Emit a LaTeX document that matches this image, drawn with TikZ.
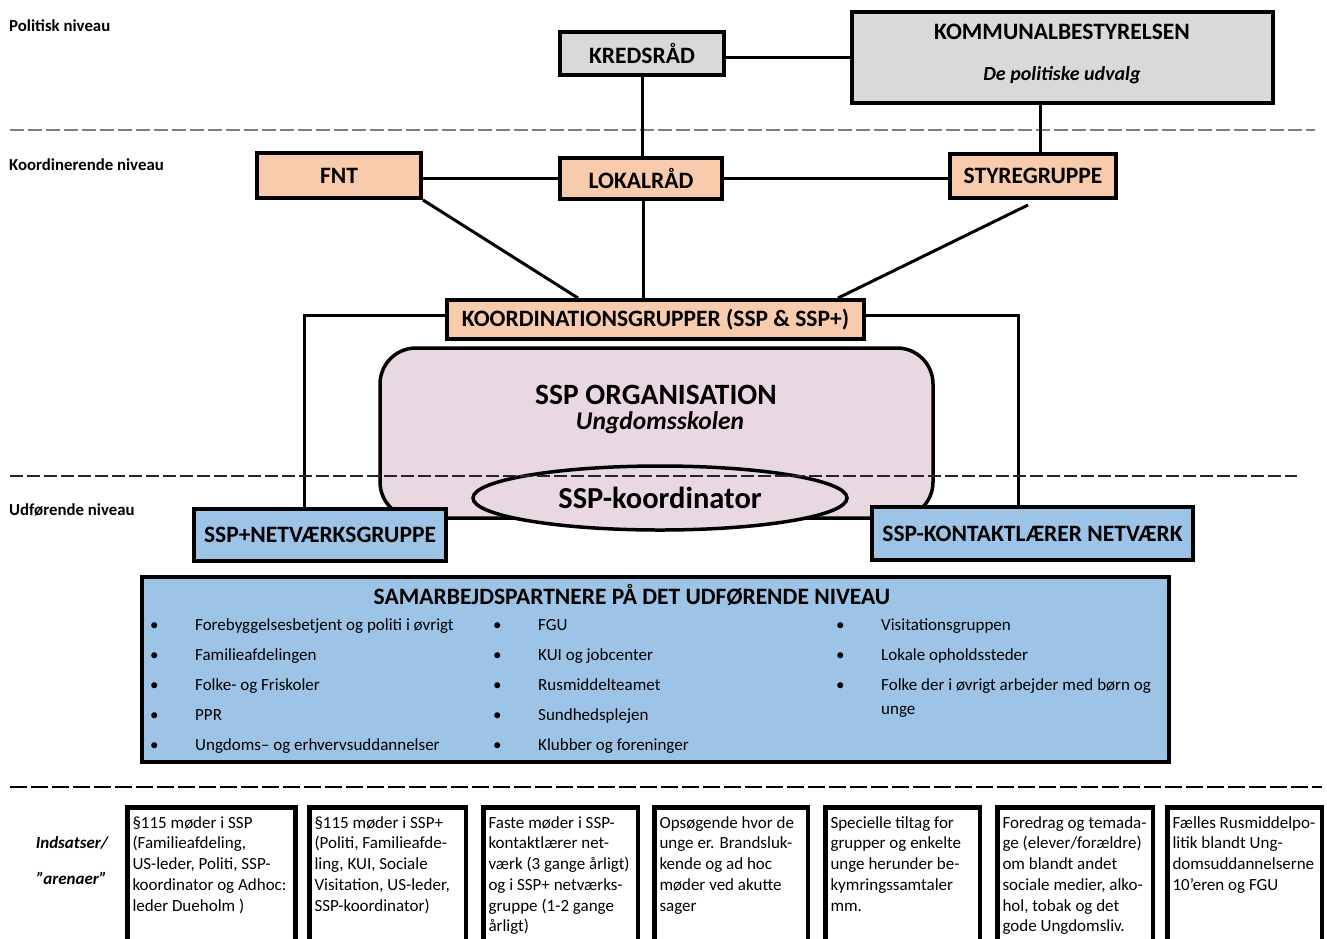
\documentclass[tikz,border=0pt]{standalone}
\usepackage{fontspec}
\setmainfont{Carlito}
\usetikzlibrary{positioning,shapes.geometric,calc}
\definecolor{graa}{RGB}{217,217,217}
\definecolor{fersken}{RGB}{248,203,173}
\definecolor{lilla}{RGB}{233,216,226}
\definecolor{blaa}{RGB}{157,195,230}
\definecolor{stiplet}{RGB}{128,128,128}
\newcommand{\punkt}[1]{\makebox[45pt][l]{•}#1}
\newcommand{\indsats}[2]{\parbox[t][150pt][t]{#1}{\begin{tabular}[t]{@{}l@{}}#2\end{tabular}}}

\begin{document}
\begin{tikzpicture}[x=1pt,y=-1pt,
  boks/.style={draw=black,line width=4pt,inner sep=0pt,font=\fontsize{23.5}{28}\selectfont\bfseries},
  streg/.style={line width=3pt},
  niveau/.style={anchor=west,inner sep=0pt,font=\fontsize{16.8}{20}\selectfont\bfseries},
  liste/.style={anchor=base west,inner sep=0pt,font=\fontsize{17}{20}\selectfont},
  arena/.style={draw=black,line width=4.5pt,anchor=north west,inner xsep=5pt,inner ysep=6.5pt,font=\fontsize{17}{20.7}\selectfont}]
\useasboundingbox[fill=white] (0,0) rectangle (1327,938);

\node[niveau] (politisk) at (9,26) {Politisk niveau};
\node[niveau] (koordinerende) at (9,165) {Koordinerende niveau};
\node[niveau] (udfoerende) at (9,510) {Udførende niveau};

\draw[stiplet,line width=1.5pt,dash pattern=on 14pt off 4pt] (10,130) -- (1315,130);
\draw[black,line width=1.5pt,dash pattern=on 17pt off 4pt] (10,787) -- (1322,787);

\node[boks,fill=graa,minimum width=164,minimum height=43] (kredsraad) at (642,53.5) {KREDSRÅD};
\node[boks,fill=graa,minimum width=421,minimum height=91] (kb) at (1062.5,57.5) {};
\node[font=\fontsize{23.5}{28}\selectfont\bfseries] (kbnavn) at (1062,32) {KOMMUNALBESTYRELSEN};
\node[font=\fontsize{20}{24}\selectfont\bfseries\itshape] (kbudvalg) at (1062,75) {De politiske udvalg};

\node[boks,fill=fersken,minimum width=164,minimum height=45] (fnt) at (339,175.5) {FNT};
\node[boks,fill=fersken,minimum width=162,minimum height=41] (lokalraad) at (641,178.5) {LOKALRÅD};
\node[boks,fill=fersken,minimum width=166,minimum height=44] (styre) at (1033,176) {STYREGRUPPE};
\node[boks,fill=fersken,minimum width=417,minimum height=39] (koord) at (655.5,319.5) {KOORDINATIONSGRUPPER (SSP \& SSP+)};

\coordinate (k1) at (1040,105);
\coordinate (v1) at (304,315);
\coordinate (h1) at (1018,315);

\draw[streg] (kb.west) -- (kb.west -| kredsraad.east);
\draw[streg] (kredsraad.south) -- (kredsraad.south |- lokalraad.north);
\draw[streg] (k1) -- (k1 |- styre.north);
\draw[streg] (lokalraad.west) -- (lokalraad.west -| fnt.east);
\draw[streg] (lokalraad.east) -- (lokalraad.east -| styre.west);
\draw[streg] (fnt.south east) -- ($(koord.north west)+(133,0)$);
\draw[streg] ($(lokalraad.south)+(2,0)$) -- ($(koord.north)+(-12.5,0)$);
\draw[streg] ($(styre.south)+(-5,5)$) -- ($(koord.north east)+(-28,0)$);

\node[draw=black,line width=3.5pt,fill=lilla,rounded corners=36pt,minimum width=553,minimum height=170] (ssporg) at (656.5,433) {};
\node[anchor=base,inner sep=0pt,font=\fontsize{29.5}{34}\selectfont\bfseries] (orgnavn) at (656,404) {SSP ORGANISATION};
\node[anchor=base,inner sep=0pt,font=\fontsize{25.5}{30}\selectfont\bfseries\itshape] (orgsted) at (660,429.5) {Ungdomsskolen};

\node[boks,fill=blaa,minimum width=252,minimum height=52] (netv) at (320,535) {SSP+NETVÆRKSGRUPPE};
\node[boks,fill=blaa,minimum width=321,minimum height=53] (kontakt) at (1032.5,533.5) {SSP-KONTAKTLÆRER NETVÆRK};
\node[draw=black,line width=3.5pt,fill=lilla,ellipse,inner sep=0pt,minimum width=374,minimum height=64,font=\fontsize{30.5}{34}\selectfont\bfseries] (sspkoord) at (660,498) {SSP-koordinator};

\draw[streg] (koord.west |- v1) -- (v1) -- (v1 |- netv.north);
\draw[streg] (koord.east |- h1) -- (h1) -- (h1 |- kontakt.north);

\draw[black!85,line width=1.5pt,dash pattern=on 13pt off 4pt] (10,476) -- (1297,476);

\node[boks,fill=blaa,line width=4.5pt,minimum width=1027,minimum height=185] (samarbejd) at (655.5,669.5) {};
\node[font=\fontsize{23.5}{28}\selectfont\bfseries] (samtitel) at (632,595) {SAMARBEJDSPARTNERE PÅ DET UDFØRENDE NIVEAU};

\node[liste] (p1) at (150,630) {\punkt{Forebyggelsesbetjent og politi i øvrigt}};
\node[liste] (p2) at (150,660) {\punkt{Familieafdelingen}};
\node[liste] (p3) at (150,690) {\punkt{Folke- og Friskoler}};
\node[liste] (p4) at (150,720) {\punkt{PPR}};
\node[liste] (p5) at (150,750) {\punkt{Ungdoms– og erhvervsuddannelser}};
\node[liste] (p6) at (493,630) {\punkt{FGU}};
\node[liste] (p7) at (493,660) {\punkt{KUI og jobcenter}};
\node[liste] (p8) at (493,690) {\punkt{Rusmiddelteamet}};
\node[liste] (p9) at (493,720) {\punkt{Sundhedsplejen}};
\node[liste] (p10) at (493,750) {\punkt{Klubber og foreninger}};
\node[liste] (p11) at (836,630) {\punkt{Visitationsgruppen}};
\node[liste] (p12) at (836,660) {\punkt{Lokale opholdssteder}};
\node[liste] (p13) at (836,690) {\punkt{Folke der i øvrigt arbejder med børn og}};
\node[liste] (p14) at (881,714) {unge};

\node[font=\fontsize{17}{20}\selectfont\bfseries\itshape] (indsatser) at (72,843) {Indsatser/};
\node[font=\fontsize{17}{20}\selectfont\bfseries\itshape] (arenaer) at (72,878) {”arenaer”};

\node[arena] (a1) at (125.25,805) {\indsats{158pt}{§115 møder i SSP\\(Familieafdeling,\\US-leder, Politi, SSP-\\koordinator og Adhoc:\\leder Dueholm )}};
\node[arena] (a2) at (307.25,805) {\indsats{146.5pt}{§115 møder i SSP+\\(Politi, Familieafde-\\ling, KUI, Sociale\\Visitation, US-leder,\\SSP-koordinator)}};
\node[arena] (a3) at (481.25,805) {\indsats{144.5pt}{Faste møder i SSP-\\kontaktlærer net-\\værk (3 gange årligt)\\og i SSP+ netværks-\\gruppe (1-2 gange\\årligt)}};
\node[arena] (a4) at (652.25,805) {\indsats{143.5pt}{Opsøgende hvor de\\unge er. Brandsluk-\\kende og ad hoc\\møder ved akutte\\sager}};
\node[arena] (a5) at (823.25,805) {\indsats{144.5pt}{Specielle tiltag for\\grupper og enkelte\\unge herunder be-\\kymringssamtaler\\mm.}};
\node[arena] (a6) at (995.25,805) {\indsats{145.5pt}{Foredrag og temada-\\ge (elever/forældre)\\om blandt andet\\sociale medier, alko-\\hol, tobak og det\\gode Ungdomsliv.}};
\node[arena] (a7) at (1165.25,805) {\indsats{144.5pt}{Fælles Rusmiddelpo-\\litik blandt Ung-\\domsuddannelserne\\10’eren og FGU}};
\end{tikzpicture}
\end{document}
